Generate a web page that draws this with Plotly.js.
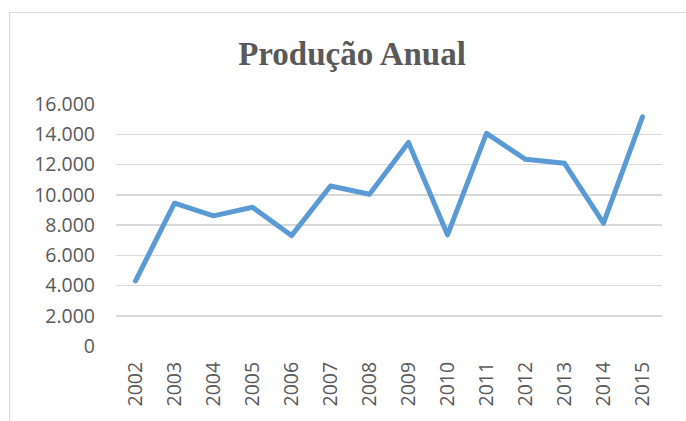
<!DOCTYPE html>
<html>
<head>
<meta charset="utf-8">
<script src="https://cdn.plot.ly/plotly-3.0.1.min.js"></script>
<style>
  html, body { margin: 0; padding: 0; background: #ffffff; }
  #wrap { position: relative; width: 686px; height: 421px; overflow: hidden; }
  #chart { position: absolute; left: 0; top: 0; width: 686px; height: 421px; }
  .bl { position: absolute; left: 9px; top: 12px; width: 1px; height: 409px; background: #d9d9d9; }
  .bt { position: absolute; left: 9px; top: 12px; width: 677px; height: 1px; background: #d9d9d9; }
  #chart .scatterlayer path.js-line { stroke-linecap: round; stroke-linejoin: round; }
</style>
</head>
<body>
<div id="wrap">
  <div id="chart"></div>
  <div class="bl"></div>
  <div class="bt"></div>
</div>
<script>
const years = ["2002","2003","2004","2005","2006","2007","2008","2009","2010","2011","2012","2013","2014","2015"];
const producao = [4300, 9440, 8600, 9170, 7300, 10580, 10030, 13460, 7350, 14060, 12340, 12080, 8120, 15150];
const yTickVals = [0, 2000, 4000, 6000, 8000, 10000, 12000, 14000, 16000];
const yTickText = ["0", "2.000", "4.000", "6.000", "8.000", "10.000", "12.000", "14.000", "16.000"];
const chartTitle = "Produção Anual";

const trace = {
  x: years,
  y: producao,
  type: "scatter",
  mode: "lines",
  line: { color: "#5b9bd5", width: 5, shape: "linear" },
  hoverinfo: "x+y"
};

const layout = {
  width: 686,
  height: 421,
  margin: { l: 116, r: 24, t: 104, b: 75, pad: 0 },
  paper_bgcolor: "rgba(0,0,0,0)",
  plot_bgcolor: "rgba(0,0,0,0)",
  showlegend: false,
  title: {
    text: "<b>" + chartTitle + "</b>",
    font: { family: "Liberation Serif, serif", size: 33, color: "#595959" },
    x: 352 / 686,
    xanchor: "center",
    xref: "container",
    y: 1 - 53 / 421,
    yanchor: "middle",
    yref: "container"
  },
  xaxis: {
    type: "category",
    range: [-0.5, 13.5],
    showgrid: false,
    zeroline: false,
    showline: false,
    ticks: "",
    tickangle: -90,
    ticklabelstandoff: 11,
    tickfont: { family: "Open Sans, sans-serif", size: 19.5, color: "#595959" },
    fixedrange: true
  },
  yaxis: {
    range: [0, 16000],
    tickvals: yTickVals,
    ticktext: yTickText,
    showgrid: true,
    gridcolor: "#d9d9d9",
    gridwidth: 1.5,
    zeroline: false,
    showline: false,
    ticks: "",
    ticklabelstandoff: 20,
    tickfont: { family: "Open Sans, sans-serif", size: 19.5, color: "#595959" },
    fixedrange: true
  }
};

Plotly.newPlot("chart", [trace], layout, { displayModeBar: false, staticPlot: true });
</script>
</body>
</html>
